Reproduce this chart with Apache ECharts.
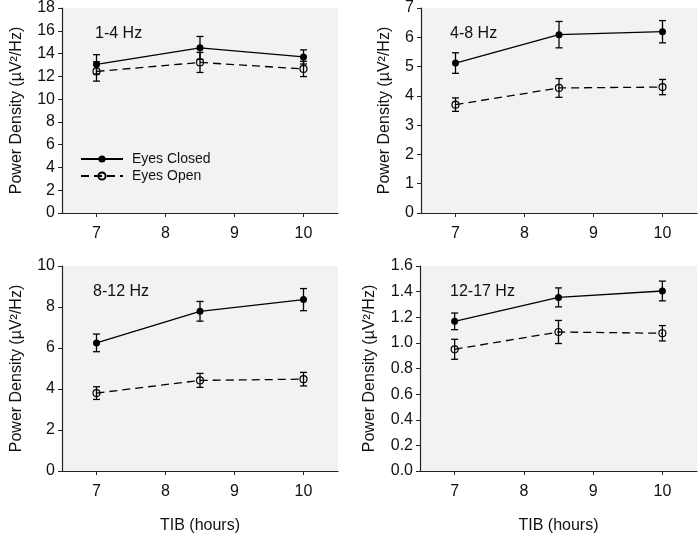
<!DOCTYPE html>
<html>
<head>
<meta charset="utf-8">
<script src="https://cdn.jsdelivr.net/npm/echarts@6/dist/echarts.min.js"></script>
<style>html,body{margin:0;padding:0;background:#fff;}#c{width:700px;height:536px;}</style>
</head>
<body>
<div id="c"></div>
<script>
// ---- data ----
var tib = [7, 8.5, 10];
var xTicks = [7, 8, 9, 10];
var bands = ['1-4 Hz', '4-8 Hz', '8-12 Hz', '12-17 Hz'];
var closed_1_4 = [13.05, 14.5, 13.7];
var closedErr_1_4 = [0.85, 1.0, 0.62];
var open_1_4 = [12.43, 13.22, 12.65];
var openErr_1_4 = [0.85, 0.88, 0.67];
var closed_4_8 = [5.12, 6.09, 6.19];
var closedErr_4_8 = [0.35, 0.45, 0.38];
var open_4_8 = [3.70, 4.27, 4.30];
var openErr_4_8 = [0.23, 0.32, 0.26];
var closed_8_12 = [6.25, 7.79, 8.36];
var closedErr_8_12 = [0.43, 0.48, 0.54];
var open_8_12 = [3.80, 4.42, 4.48];
var openErr_8_12 = [0.31, 0.34, 0.33];
var closed_12_17 = [1.168, 1.355, 1.405];
var closedErr_12_17 = [0.065, 0.074, 0.077];
var open_12_17 = [0.950, 1.085, 1.075];
var openErr_12_17 = [0.078, 0.09, 0.06];
var yMax = [18, 7, 10, 1.6];
var yStep = [2, 1, 2, 0.2];
var yDecimals = [0, 0, 0, 1];

var closedAll = [closed_1_4, closed_4_8, closed_8_12, closed_12_17];
var closedErrAll = [closedErr_1_4, closedErr_4_8, closedErr_8_12, closedErr_12_17];
var openAll = [open_1_4, open_4_8, open_8_12, open_12_17];
var openErrAll = [openErr_1_4, openErr_4_8, openErr_8_12, openErr_12_17];

// ---- layout ----
var grids = [
  {left: 62, top: 8, width: 276, height: 205},
  {left: 421, top: 8, width: 276, height: 205},
  {left: 62, top: 266, width: 276, height: 205},
  {left: 420, top: 266, width: 277, height: 205}
];
var nameGaps = [37, 28, 37, 42];
var titlePos = [[95, 26], [450, 26], [93, 284], [450, 284]];
var FONT = 'Liberation Sans, Arial, sans-serif';
var TXT = '#111';

function pairs(xs, ys) { return xs.map(function (x, i) { return [x, ys[i]]; }); }
function errData(xs, ys, es) { return xs.map(function (x, i) { return [x, ys[i] - es[i], ys[i] + es[i]]; }); }

function errRender(params, api) {
  var x = api.value(0), lo = api.value(1), hi = api.value(2);
  var a = api.coord([x, hi]), b = api.coord([x, lo]);
  var w = 3.5;
  var st = {stroke: '#000', lineWidth: 1.3};
  return {type: 'group', children: [
    {type: 'line', shape: {x1: a[0], y1: a[1], x2: b[0], y2: b[1]}, style: st},
    {type: 'line', shape: {x1: a[0] - w, y1: a[1], x2: a[0] + w, y2: a[1]}, style: st},
    {type: 'line', shape: {x1: b[0] - w, y1: b[1], x2: b[0] + w, y2: b[1]}, style: st}
  ]};
}

var xAxes = [], yAxes = [], series = [], titles = [], gridOpts = [];
for (var i = 0; i < 4; i++) {
  gridOpts.push(Object.assign({show: true, backgroundColor: '#f2f2f2', borderWidth: 0, containLabel: false}, grids[i]));
  xAxes.push({
    type: 'value', gridIndex: i, min: 6.5, max: 10.5,
    name: i >= 2 ? 'TIB (hours)' : '', nameLocation: 'middle', nameGap: 47,
    nameTextStyle: {fontFamily: FONT, fontSize: 16, color: TXT},
    axisLine: {show: true, onZero: false, lineStyle: {color: '#222', width: 1.2}},
    axisTick: {show: true, length: 4, inside: false, customValues: xTicks, lineStyle: {color: '#222'}},
    axisLabel: {show: true, customValues: xTicks, margin: 13, fontFamily: FONT, fontSize: 16, color: TXT},
    splitLine: {show: false}
  });
  (function (d) {
    yAxes.push({
      type: 'value', gridIndex: i, min: 0, max: yMax[i], interval: yStep[i],
      name: 'Power Density (µV²/Hz)', nameLocation: 'middle', nameGap: nameGaps[i],
      nameTextStyle: {fontFamily: FONT, fontSize: 16, color: TXT},
      axisLine: {show: true, lineStyle: {color: '#222', width: 1.2}},
      axisTick: {show: true, length: 4, inside: false, lineStyle: {color: '#222'}},
      axisLabel: {margin: 7, fontFamily: FONT, fontSize: 16, color: TXT,
        formatter: function (v) { return v.toFixed(d); }},
      splitLine: {show: false}
    });
  })(yDecimals[i]);
  titles.push({text: bands[i], left: titlePos[i][0], top: titlePos[i][1], padding: 0,
    textStyle: {fontFamily: FONT, fontSize: 16, fontWeight: 'normal', color: TXT}});
  series.push({
    name: 'Eyes Closed', type: 'line', xAxisIndex: i, yAxisIndex: i,
    data: pairs(tib, closedAll[i]), symbol: 'circle', symbolSize: 7,
    lineStyle: {color: '#000', width: 1.3}, itemStyle: {color: '#000'}, z: 3
  });
  series.push({
    name: 'Eyes Open', type: 'line', xAxisIndex: i, yAxisIndex: i,
    data: pairs(tib, openAll[i]), symbol: 'circle', symbolSize: 7,
    lineStyle: {color: '#000', width: 1.3, type: [8, 5]},
    itemStyle: {color: 'rgba(0,0,0,0)', borderColor: '#000', borderWidth: 1.2}, z: 3
  });
  series.push({
    type: 'custom', xAxisIndex: i, yAxisIndex: i, renderItem: errRender,
    data: errData(tib, closedAll[i], closedErrAll[i]), encode: {x: 0, y: [1, 2]}, z: 4, silent: true
  });
  series.push({
    type: 'custom', xAxisIndex: i, yAxisIndex: i, renderItem: errRender,
    data: errData(tib, openAll[i], openErrAll[i]), encode: {x: 0, y: [1, 2]}, z: 4, silent: true
  });
}

var chart = echarts.init(document.getElementById('c'), null, {renderer: 'canvas'});
chart.setOption({
  backgroundColor: '#fff',
  animation: false,
  title: titles,
  legend: {
    data: ['Eyes Closed', 'Eyes Open'], orient: 'vertical', left: 80, top: 152,
    itemWidth: 42, itemHeight: 9, itemGap: 3, padding: 0,
    textStyle: {fontFamily: FONT, fontSize: 14, color: TXT, padding: [0, 0, 0, 4]}
  },
  grid: gridOpts,
  xAxis: xAxes,
  yAxis: yAxes,
  series: series
});
</script>
</body>
</html>
